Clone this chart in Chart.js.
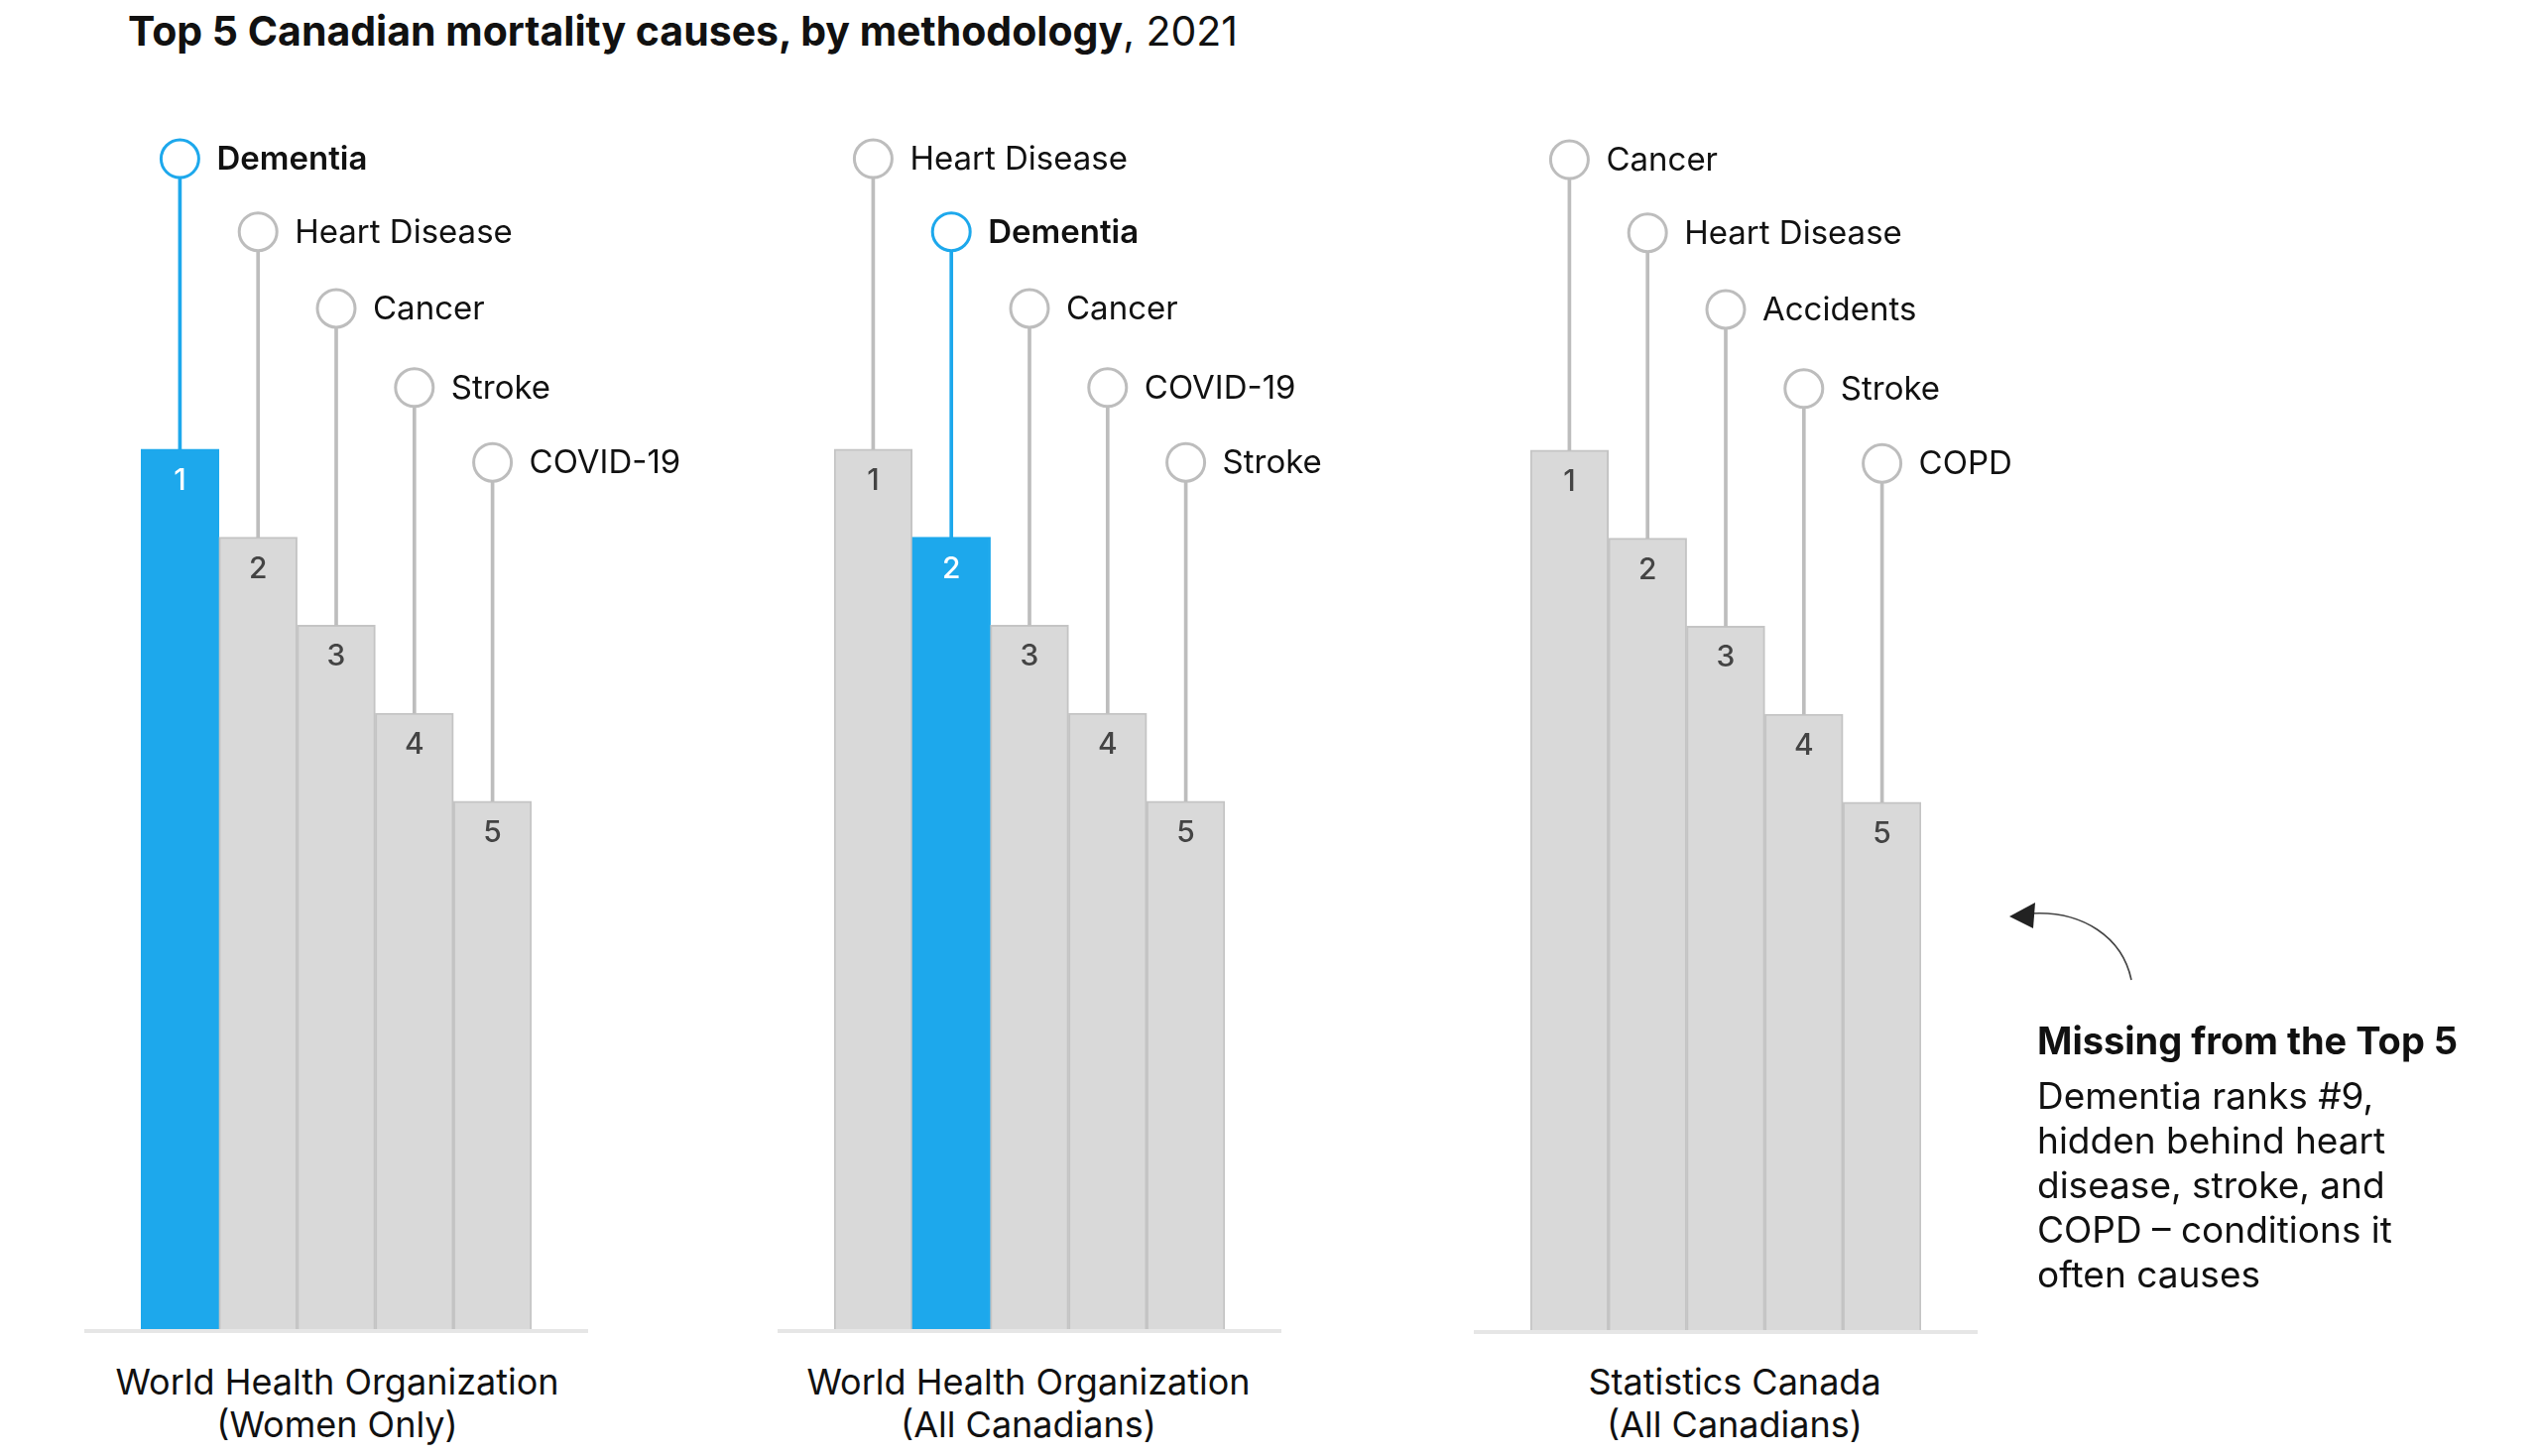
<!DOCTYPE html>
<html>
<head>
<meta charset="utf-8">
<script src="https://cdn.jsdelivr.net/npm/chart.js@4/dist/chart.umd.min.js"></script>
<style>
body{margin:0;background:#fff;font-family:Inter,"Noto Sans",sans-serif;color:#111;}
#page{position:relative;width:2560px;height:1468px;overflow:hidden;}
.panel{position:absolute;}
.title{position:absolute;left:129px;top:6px;font-size:41px;white-space:nowrap;}
.title b{font-weight:700;}
.cat{position:absolute;width:600px;text-align:center;font-size:36px;line-height:43px;top:1372px;}
.note{position:absolute;left:2054px;top:1026px;width:500px;}
.note h3{margin:0 0 10px 0;font-size:38px;font-weight:700;line-height:46px;}
.note p{margin:0;font-size:37px;line-height:45px;}
svg{position:absolute;left:0;top:0;}
</style>
</head>
<body>
<div id="page">
<div class="title"><b>Top 5 Canadian mortality causes, by methodology</b>, 2021</div>
<canvas id="c0" class="panel" width="787" height="1362"></canvas>
<canvas id="c1" class="panel" width="787" height="1362"></canvas>
<canvas id="c2" class="panel" width="787" height="1362"></canvas>
<div id="cats"></div>
<div class="note">
<h3>Missing from the Top 5</h3>
<p>Dementia ranks #9,<br>hidden behind heart<br>disease, stroke, and<br>COPD – conditions it<br>often causes</p>
</div>
<svg width="2560" height="1468"></svg>
</div>

<script>
// data
const ranks = ["1", "2", "3", "4", "5"];
const methods = ["World Health Organization\n(Women Only)", "World Health Organization\n(All Canadians)", "Statistics Canada\n(All Canadians)"];
const whoWomen = ["Dementia", "Heart Disease", "Cancer", "Stroke", "COVID-19"];
const whoAll = ["Heart Disease", "Dementia", "Cancer", "COVID-19", "Stroke"];
const statCan = ["Cancer", "Heart Disease", "Accidents", "Stroke", "COPD"];
const barHeights = [10, 9, 8, 7, 6];
const markerHeights = [13.3, 12.47, 11.6, 10.7, 9.85];
const highlight = "Dementia";

const BLUE = "#1da8ec";
const GRAY = "#d9d9d9";
const EDGE = "#c4c4c4";
const STEM = "#bdbdbd";

const causes = [whoWomen, whoAll, statCan];
const barsLeft = [142, 841, 1543];
const panelTop = [0, 0, 1];
const padL = 60, padR = 333;

const labelPlugin = {
  id: "labels",
  beforeDatasetsDraw(chart) {
    const a = chart.chartArea, ctx = chart.ctx;
    ctx.save();
    ctx.strokeStyle = "#e6e6e6";
    ctx.lineWidth = 4;
    ctx.beginPath();
    ctx.moveTo(a.left - 57, a.bottom + 2);
    ctx.lineTo(a.right + 57, a.bottom + 2);
    ctx.stroke();
    ctx.restore();
  },
  afterDatasetsDraw(chart) {
    const ctx = chart.ctx;
    const names = chart.config.options.plugins.labels.names;
    const bars = chart.getDatasetMeta(0).data;
    const pts = chart.getDatasetMeta(2).data;
    ctx.save();
    ctx.textAlign = "center";
    ctx.textBaseline = "middle";
    bars.forEach((b, i) => {
      ctx.font = "500 30px Inter";
      ctx.fillStyle = names[i] == highlight ? "#fff" : "#444";
      ctx.fillText(ranks[i], b.x, b.y + 32);
    });
    ctx.textAlign = "left";
    pts.forEach((p, i) => {
      const hi = names[i] == highlight;
      ctx.font = (hi ? "600 " : "400 ") + "33px Inter";
      ctx.fillStyle = "#111";
      ctx.fillText(names[i], p.x + 37, p.y + 1);
    });
    ctx.restore();
  }
};

causes.forEach((names, k) => {
  const cv = document.getElementById("c" + k);
  cv.style.left = (barsLeft[k] - padL) + "px";
  cv.style.top = panelTop[k] + "px";
  const colors = names.map(n => n == highlight ? BLUE : GRAY);
  const edges = names.map(n => n == highlight ? BLUE : EDGE);
  const stems = names.map(n => n == highlight ? BLUE : STEM);

  new Chart(cv, {
    type: "bar",
    data: {
      labels: ranks,
      datasets: [
        {
          data: barHeights,
          backgroundColor: colors,
          borderColor: edges,
          borderWidth: 2,
          categoryPercentage: 1,
          barPercentage: 1,
          grouped: false,
          order: 3
        },
        {
          data: barHeights.map((v, i) => [v, markerHeights[i]]),
          backgroundColor: stems,
          borderWidth: 0,
          barThickness: 3,
          grouped: false,
          order: 2
        },
        {
          type: "line",
          data: markerHeights,
          showLine: false,
          pointRadius: 19,
          pointBorderWidth: 3,
          pointBackgroundColor: "#fff",
          pointBorderColor: stems,
          order: 1
        }
      ]
    },
    options: {
      responsive: false,
      animation: false,
      layout: { padding: { left: padL, right: padR, top: 98, bottom: 10 } },
      scales: {
        x: { display: false },
        y: { display: false, min: 0, max: 14 }
      },
      plugins: {
        legend: { display: false },
        tooltip: { enabled: false },
        labels: { names: names }
      }
    },
    plugins: [labelPlugin]
  });
});

// methodology labels under each panel
const catCenters = [340, 1037, 1749];
methods.forEach((m, k) => {
  const d = document.createElement("div");
  d.className = "cat";
  d.style.left = (catCenters[k] - 300) + "px";
  d.innerHTML = m.replace("\n", "<br>");
  document.getElementById("cats").appendChild(d);
});

// annotation arrow
const NS = "http://www.w3.org/2000/svg";
const svg = document.querySelector("svg");
const path = document.createElementNS(NS, "path");
path.setAttribute("d", "M2149,988 C2140,945 2100,918 2048,921");
path.setAttribute("fill", "none");
path.setAttribute("stroke", "#444");
path.setAttribute("stroke-width", "1.6");
svg.appendChild(path);
const head = document.createElementNS(NS, "path");
head.setAttribute("d", "M2026,924 L2052,910 L2050,936 Z");
head.setAttribute("fill", "#222");
svg.appendChild(head);
</script>
</body>
</html>
